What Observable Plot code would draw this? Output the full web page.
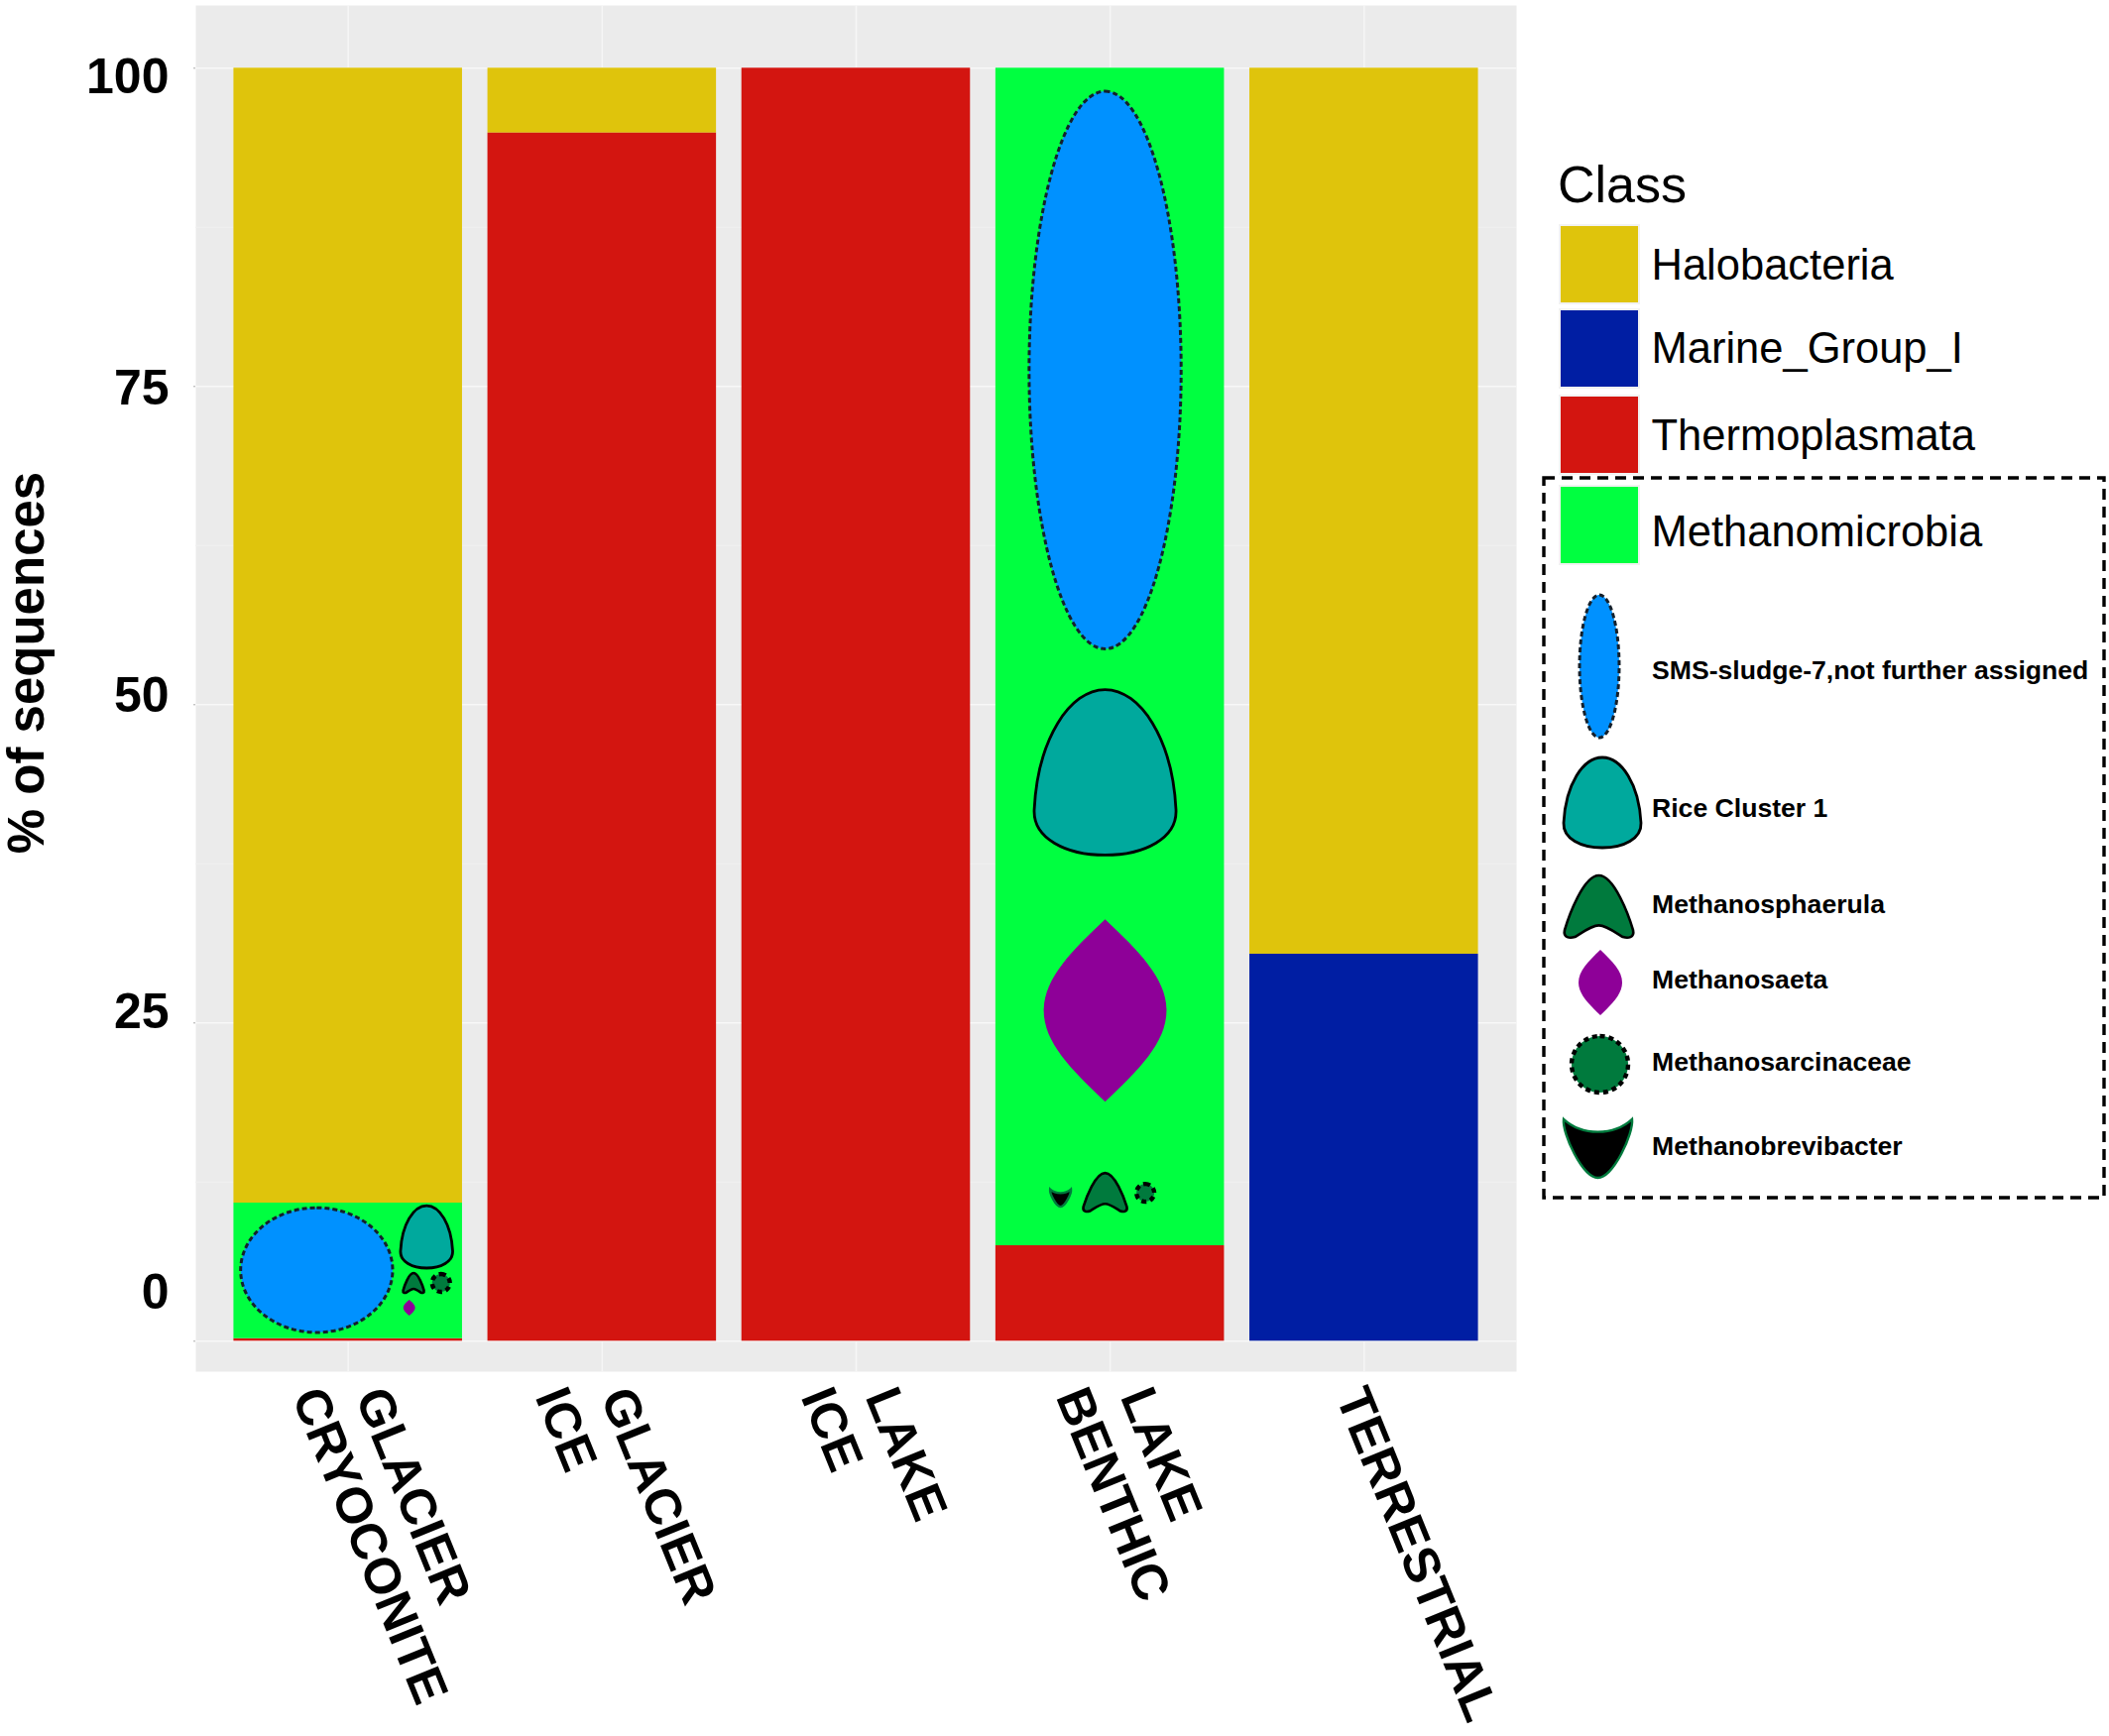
<!DOCTYPE html>
<html>
<head>
<meta charset="utf-8">
<script src="https://cdn.jsdelivr.net/npm/d3@7"></script>
<script src="https://cdn.jsdelivr.net/npm/@observablehq/plot@0.6"></script>
<style>
  html, body { margin: 0; padding: 0; background: #fff; }
  #chart { position: relative; width: 2127px; height: 1751px; font-family: "Liberation Sans", Arial, sans-serif; }
  #chart svg { position: absolute; left: 0; top: 0; }
</style>
</head>
<body>
<div id="chart"></div>
<script>
const environments = ["GLACIER\nCRYOCONITE", "GLACIER\nICE", "LAKE\nICE", "LAKE\nBENTHIC", "TERRESTRIAL"];
const classes = ["Halobacteria", "Marine_Group_I", "Thermoplasmata", "Methanomicrobia"];
const classColors = ["#dfc40c", "#001ea3", "#d31510", "#00ff40"];
const stackOrder = ["Marine_Group_I", "Thermoplasmata", "Methanomicrobia", "Halobacteria"];

// % of sequences per environment
const halobacteria = [89.15, 5.1, 0, 0, 69.6];
const marineGroupI = [0, 0, 0, 0, 30.4];
const thermoplasmata = [0.2, 94.9, 100, 7.5, 0];
const methanomicrobia = [10.65, 0, 0, 92.5, 0];
const shares = [halobacteria, marineGroupI, thermoplasmata, methanomicrobia];

const yTicks = [0, 25, 50, 75, 100];
const yMinor = [12.5, 37.5, 62.5, 87.5];
// the tick labels sit off their ticks in the original, so they get their own heights
const yLabels = ["100", "75", "50", "25", "0"];
const yLabelAt = [99.4, 74.9, 50.8, 25.9, 3.9];

// the lines of the x labels are staggered by hand in the original
const xLabelOffsets = [[22, -42], [13, -53], [24, -41], [25, -40], [-14]];

// genus shapes inside the Methanomicrobia segments
const blobEnv = [0, 0, 0, 0, 0, 3, 3, 3, 3, 3, 3];
const blobTaxon = ["sms", "rice", "sphaerula", "sarcina", "saeta", "sms", "rice", "saeta", "brevi", "sphaerula", "sarcina"];
const blobCentre = [5.55, 8.16, 4.54, 4.54, 2.59, 76.25, 44.65, 25.94, 11.27, 11.66, 11.62];
const blobHeight = [9.8, 4.9, 1.56, 1.4, 1.25, 43.8, 13, 14.32, 1.48, 3.04, 1.4];
const blobOffset = [-0.136, 0.345, 0.288, 0.408, 0.269, -0.02, -0.02, -0.02, -0.215, -0.02, 0.156];
const blobWidth = [0.665, 0.228, 0.091, 0.078, 0.052, 0.665, 0.62, 0.537, 0.091, 0.19, 0.078];

const taxa = ["sms", "rice", "sphaerula", "saeta", "sarcina", "brevi"];
const taxaNames = ["SMS-sludge-7,not further assigned", "Rice Cluster 1", "Methanosphaerula", "Methanosaeta", "Methanosarcinaceae", "Methanobrevibacter"];

// unit shapes, -1..1 on both axes
const shapes = {
  sms: { d: "M0,-1C.55,-1 1,-.55 1,0C1,.55 .55,1 0,1C-.55,1 -1,.55 -1,0C-1,-.55 -.55,-1 0,-1Z", fill: "#0091ff", stroke: "#15202b", width: 3, dash: "5 3" },
  rice: { d: "M0,-1C.5,-1 .95,-.4 1,.45C1.02,.8 .55,1 0,1C-.55,1 -1.02,.8 -1,.45C-.95,-.4 -.5,-1 0,-1Z", fill: "#00a99d", stroke: "#000", width: 2.8 },
  sphaerula: { d: "M0,-1C.45,-1 .88,.3 1,.75C1.05,1 .85,1.02 .7,.97C.45,.8 .2,.6 0,.6C-.2,.6 -.45,.8 -.7,.97C-.85,1.02 -1.05,1 -1,.75C-.88,.3 -.45,-1 0,-1Z", fill: "#007a3d", stroke: "#000", width: 2.6 },
  saeta: { d: "M0,-1C.55,-.65 1,-.35 1,0C1,.35 .55,.65 0,1C-.55,.65 -1,.35 -1,0C-1,-.35 -.55,-.65 0,-1Z", fill: "#8e0098", stroke: "none", width: 0 },
  sarcina: { d: "M0,-1C.55,-1 1,-.55 1,0C1,.55 .55,1 0,1C-.55,1 -1,.55 -1,0C-1,-.55 -.55,-1 0,-1Z", fill: "#007a3d", stroke: "#000", width: 4.4, dash: "5 4" },
  brevi: { d: "M-1,-.85C-.7,-.55 -.3,-.45 0,-.45C.3,-.45 .7,-.55 1,-.85C1.05,-.4 .45,1 0,1C-.45,1 -1.05,-.4 -1,-.85Z", fill: "#000", stroke: "#007a3d", width: 2.4 },
};

const rows = classes.flatMap((cls, c) =>
  environments.map((env, e) => ({ env, cls, share: shares[c][e] })),
);

const drawShape = (parent, taxon, cx, cy, w, h) => {
  const s = shapes[taxon];
  parent
    .append("path")
    .attr("d", s.d)
    .attr("transform", `translate(${cx},${cy}) scale(${w / 2},${h / 2})`)
    .attr("fill", s.fill)
    .attr("stroke", s.stroke)
    .attr("stroke-width", s.width)
    .attr("stroke-dasharray", s.dash || null)
    .attr("vector-effect", "non-scaling-stroke");
};

// draws the genus shapes through the chart's own x and y scales
const blobMark = (index, { x, y }) => {
  const g = d3.create("svg:g");
  const bw = x.bandwidth();
  blobTaxon.forEach((taxon, i) => {
    const left = x(environments[blobEnv[i]]);
    drawShape(
      g,
      taxon,
      left + bw / 2 + blobOffset[i] * bw,
      y(blobCentre[i]),
      blobWidth[i] * bw,
      y(0) - y(blobHeight[i]),
    );
  });
  return g.node();
};

const xLabelMarks = environments.flatMap((env, e) =>
  env.split("\n").map((line, l) =>
    Plot.text([line], {
      x: () => env,
      text: (d) => d,
      frameAnchor: "bottom",
      dx: xLabelOffsets[e][l],
      dy: 19,
      rotate: 68,
      textAnchor: "start",
      lineAnchor: "middle",
      fontSize: 51,
      fontWeight: "bold",
      fill: "#000",
    }),
  ),
);

const plot = Plot.plot({
  width: 2127,
  height: 1751,
  marginTop: 5,
  marginLeft: 197,
  marginRight: 598,
  marginBottom: 368,
  style: { fontFamily: "'Liberation Sans', Arial, sans-serif", background: "transparent", color: "#000" },
  x: { domain: environments, axis: null, paddingInner: 0.1, paddingOuter: 0.15, round: false },
  y: { domain: [-2.39, 104.93], axis: null },
  color: { domain: classes, range: classColors },
  marks: [
    Plot.frame({ fill: "#ebebeb" }),
    Plot.gridY(yMinor, { stroke: "#f1f1f1", strokeOpacity: 1, strokeWidth: 1 }),
    Plot.gridY(yTicks, { stroke: "#f8f8f8", strokeOpacity: 1, strokeWidth: 1.5 }),
    Plot.gridX(environments, { stroke: "#f6f6f6", strokeOpacity: 1, strokeWidth: 1.5 }),
    Plot.axisY(yTicks, { tickSize: 2, stroke: "#aaa", tickFormat: () => "", label: null }),
    Plot.barY(rows, { x: "env", y: "share", fill: "cls", z: "cls", order: stackOrder }),
    blobMark,
    Plot.text(yLabels, {
      y: (d, i) => yLabelAt[i],
      text: (d) => d,
      frameAnchor: "left",
      dx: -27,
      dy: 1,
      textAnchor: "end",
      fontSize: 50,
      fontWeight: "bold",
      fill: "#000",
    }),
    Plot.text(["% of sequences"], {
      text: (d) => d,
      frameAnchor: "left",
      dx: -170,
      dy: -26,
      rotate: -90,
      textAnchor: "middle",
      fontSize: 51,
      fontWeight: "bold",
      fill: "#000",
    }),
    ...xLabelMarks,
  ],
});

const chart = d3.select("#chart");
chart.node().appendChild(plot);

// legend, right of the panel
const legend = chart.append("svg").attr("width", 2127).attr("height", 1751);
legend.append("text").attr("x", 1571).attr("y", 204).attr("font-size", 52).text("Class");

const swatchTop = [228, 313, 400, 491];
const swatchLabelY = [267, 351, 439, 536];
classes.forEach((cls, i) => {
  legend.append("rect").attr("x", 1572).attr("y", swatchTop[i] - 2).attr("width", 82).attr("height", 81).attr("fill", "#f2f2f2");
  legend.append("rect").attr("x", 1574).attr("y", swatchTop[i]).attr("width", 78).attr("height", 77).attr("fill", classColors[i]);
  legend.append("text").attr("x", 1665.5).attr("y", swatchLabelY[i]).attr("dy", "0.35em").attr("font-size", 43.5).text(cls);
});

legend.append("rect").attr("x", 1557).attr("y", 482).attr("width", 565).attr("height", 726)
  .attr("fill", "none").attr("stroke", "#000").attr("stroke-width", 3.4).attr("stroke-dasharray", "11 7");

const keyBox = [[1593, 600, 40, 144], [1577, 764, 78, 91], [1578, 883, 69, 63], [1592, 958, 44, 66], [1585, 1045, 57, 57], [1577, 1124, 69, 64]];
const keyLabelY = [676, 815, 912, 988, 1071, 1156];
taxa.forEach((taxon, i) => {
  const [bx, by, bw, bh] = keyBox[i];
  drawShape(legend, taxon, bx + bw / 2, by + bh / 2, bw, bh);
  legend.append("text").attr("x", 1666).attr("y", keyLabelY[i]).attr("dy", "0.35em")
    .attr("font-size", 26.6).attr("font-weight", "bold").text(taxaNames[i]);
});
</script>
</body>
</html>
